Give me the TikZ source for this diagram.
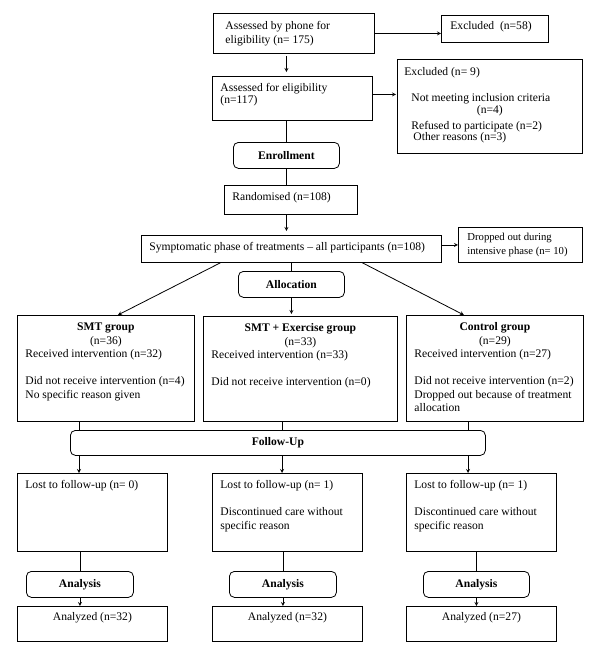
\documentclass[tikz,border=0pt]{standalone}
\usepackage{fontspec}
\setmainfont{Liberation Serif}
\usepackage{tikz}
\usetikzlibrary{shapes.geometric, arrows}
\newcommand{\diagfont}{\fontsize{11.6}{13.5}\selectfont}
\newcommand{\boxbody}[4]{\parbox[c][#2pt][t]{#1pt}{\vspace*{#3pt}\strut #4}}
\tikzstyle{textbox} = [rectangle, draw=black, anchor=north west, inner xsep=8pt, inner ysep=0pt]
\tikzstyle{stage} = [rectangle, rounded corners=5pt, draw=black, anchor=north west, inner sep=0pt, font=\diagfont\bfseries]
\tikzstyle{arrow} = [->,>=stealth]

\begin{document}
\begin{tikzpicture}[x=1pt, y=-1pt, line width=0.8pt, font=\diagfont]
      \useasboundingbox (0,0) rectangle (600,653);
      % screening
      \node (phone) [textbox, inner xsep=12pt] at (213,13) {\boxbody{137}{40}{7}{Assessed by phone for\\eligibility (n= 175)}};
      \node (excl58) [textbox, inner xsep=9pt] at (441,15) {\boxbody{89}{27}{5}{Excluded\ \ (n=58)}};
      \node (assess) [textbox] at (212,76) {\boxbody{144}{44}{6}{Assessed for eligibility\\[-1.5pt](n=117)}};
      \node (excl9) [textbox, inner xsep=7pt] at (397,59) {\boxbody{171}{94}{7}{Excluded (n= 9)\\[12.5pt]\hspace*{7pt}Not meeting inclusion criteria\\[-1.5pt]\makebox[\linewidth]{(n=4)}\\[2.5pt]\hspace*{7pt}Refused to participate (n=2)\\[-2.5pt]\hspace*{9pt}Other reasons (n=3)}};
      \node (enroll) [stage, minimum width=106pt, minimum height=26pt] at (233,142) {Enrollment};
      \node (random) [textbox] at (224,185) {\boxbody{117}{29}{6}{Randomised (n=108)}};
      \node (sympt) [textbox] at (141,235) {\boxbody{284}{27}{6}{Symptomatic phase of treatments -- all participants (n=108)}};
      \node (drop) [textbox, inner xsep=9pt, font=\fontsize{10.7}{14}\selectfont] at (458,227) {\boxbody{106}{35}{3.7}{Dropped out during\\intensive phase (n= 10)}};
      \node (alloc) [stage, minimum width=106pt, minimum height=26pt] at (238,271) {Allocation};
      % groups
      \node (smt) [textbox] at (17,315) {\boxbody{161}{106}{6}{{\centering\textbf{SMT group}\\(n=36)\par}Received intervention (n=32)\\[13.5pt]Did not receive intervention (n=4)\\No specific reason given}};
      \node (smtex) [textbox] at (203,316) {\boxbody{178}{105}{6}{{\centering\textbf{SMT + Exercise group}\\(n=33)\par}Received intervention (n=33)\\[13.5pt]Did not receive intervention (n=0)}};
      \node (ctrl) [textbox] at (406,315) {\boxbody{161}{106}{6}{{\centering\textbf{Control group}\\(n=29)\par}Received intervention (n=27)\\[13.5pt]Did not receive intervention (n=2)\\Dropped out because of treatment\\allocation}};
      \node (follow) [stage, minimum width=415pt, minimum height=25pt] at (70,430) {Follow-Up};
      % follow-up and analysis
      \node (lostA) [textbox] at (17,473) {\boxbody{134}{78}{6}{Lost to follow-up (n= 0)}};
      \node (lostB) [textbox] at (212,473) {\boxbody{134}{78}{6}{Lost to follow-up (n= 1)\\[13.5pt]Discontinued care without\\specific reason}};
      \node (lostC) [textbox] at (406,473) {\boxbody{134}{78}{6}{Lost to follow-up (n= 1)\\[13.5pt]Discontinued care without\\specific reason}};
      \node (anaA) [stage, minimum width=107pt, minimum height=26pt] at (26,571) {Analysis};
      \node (anaB) [stage, minimum width=107pt, minimum height=26pt] at (229,571) {Analysis};
      \node (anaC) [stage, minimum width=106pt, minimum height=26pt] at (423,571) {Analysis};
      \node (doneA) [textbox] at (17,606) {\boxbody{134}{35}{5}{\centering Analyzed (n=32)}};
      \node (doneB) [textbox] at (212,606) {\boxbody{134}{35}{5}{\centering Analyzed (n=32)}};
      \node (doneC) [textbox] at (406,606) {\boxbody{134}{35}{5}{\centering Analyzed (n=27)}};
      \coordinate (colA) at (79,0);
      \coordinate (colB) at (282,0);
      \coordinate (colC) at (468,0);
      % connectors
      \draw [arrow] (phone.east) -- (phone.east -| excl58.west);
      \draw [arrow, shorten <=2pt, shorten >=4pt] (phone.south -| enroll.north) -- (assess.north -| enroll.north);
      \draw [arrow, shorten >=1pt] ([yshift=4pt]assess.east) -- ([yshift=4pt]assess.east -| excl9.west);
      \draw (assess.south -| enroll.north) -- (enroll.north);
      \draw (enroll.south) -- (enroll.south |- random.north);
      \draw [arrow, shorten >=4pt] (random.south -| enroll.south) -- (sympt.north -| enroll.south);
      \draw [arrow] (sympt.east |- drop.west) -- (drop.west);
      \draw (sympt.south) -- (alloc.north);
      \draw [arrow, shorten >=2pt] (alloc.south) -- (alloc.south |- smtex.north);
      \draw [arrow] ([xshift=-71pt]sympt.south) -- ([xshift=12pt]smt.north);
      \draw [arrow] ([xshift=71pt]sympt.south) -- ([xshift=-31pt]ctrl.north);
      \draw (smt.south -| colA) -- (follow.north -| colA);
      \draw (smtex.south -| colB) -- (follow.north -| colB);
      \draw (ctrl.south -| colC) -- (follow.north -| colC);
      \draw [arrow] (follow.south -| colA) -- (lostA.north -| colA);
      \draw [arrow] (follow.south -| colB) -- (lostB.north -| colB);
      \draw [arrow] (follow.south -| colC) -- (lostC.north -| colC);
      \draw (lostA.south -| anaA.north) -- (anaA.north);
      \draw (lostB.south -| anaB.north) -- (anaB.north);
      \draw (lostC.south -| anaC.north) -- (anaC.north);
      \draw [arrow] (anaA.south) -- (doneA.north -| anaA.south);
      \draw [arrow] (anaB.south) -- (doneB.north -| anaB.south);
      \draw [arrow] (anaC.south) -- (doneC.north -| anaC.south);
    \end{tikzpicture}
\end{document}
